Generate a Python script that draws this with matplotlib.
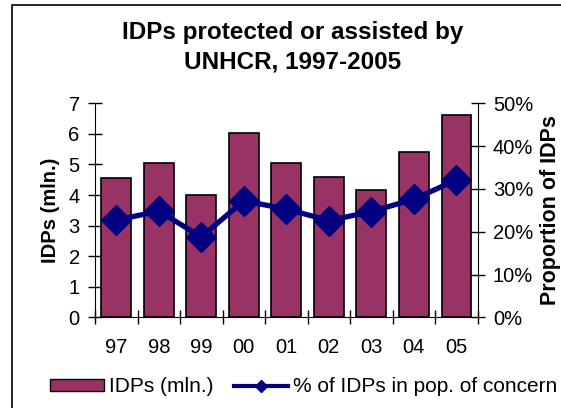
import matplotlib.pyplot as plt
from matplotlib.patches import Rectangle
from matplotlib.ticker import FuncFormatter
from matplotlib.lines import Line2D
import numpy as np

plt.rcParams['font.family'] = ['Liberation Sans', 'DejaVu Sans']

years = ["97", "98", "99", "00", "01", "02", "03", "04", "05"]
idps_mln = [4.55, 5.04, 4.0, 6.03, 5.04, 4.6, 4.18, 5.42, 6.63]
pct_concern = [22.7, 24.8, 18.8, 27.2, 25.3, 22.6, 24.7, 27.6, 32.1]

BAR = "#993366"
LINE = "#000080"
FS = 14.5

fig = plt.figure(figsize=(5.61, 4.08), dpi=100)
ax = fig.add_axes([0.1693, 0.2223, 0.6822, 0.5245])
x = np.arange(len(years))
ax.bar(x, idps_mln, width=0.7, color=BAR, edgecolor="black", linewidth=1.2, zorder=2)
ax.set_xlim(-0.5, len(years) - 0.5)
ax.set_ylim(0, 7)
ax.set_yticks(range(8))

ax2 = ax.twinx()
ax2.plot(x, pct_concern, color=LINE, lw=3.8, marker="D", ms=15, zorder=3)
ax2.set_ylim(0, 50)
ax2.set_yticks(range(0, 51, 10))
ax2.yaxis.set_major_formatter(FuncFormatter(lambda v, p: f"{v:.0f}%"))

for a in (ax, ax2):
    a.spines["top"].set_visible(False)
    a.set_facecolor("none")
ax.spines["right"].set_visible(False)
ax2.spines["left"].set_visible(False)
ax2.spines["bottom"].set_visible(False)

ax.tick_params(axis="y", direction="inout", length=10, width=1, pad=6, labelsize=FS)
ax2.tick_params(axis="y", direction="inout", length=10, width=1, pad=6, labelsize=FS)

# boundary ticks on the category axis, labels at centres
ax.set_xticks(np.arange(-0.5, len(years), 1.0))
ax.set_xticklabels([])
ax.tick_params(axis="x", which="major", direction="inout", length=10, width=1)
ax.set_xticks(x, minor=True)
ax.set_xticklabels(years, minor=True)
ax.tick_params(axis="x", which="minor", length=0, pad=15, labelsize=FS)

ax.set_ylabel("IDPs (mln.)", fontsize=FS, fontweight="bold", labelpad=6)
ax2.set_ylabel("Proportion of IDPs", fontsize=15.5, fontweight="bold", labelpad=5)

fig.text(0.521, 1 - 33 / 408, "IDPs protected or assisted by",
         ha="center", va="center", fontsize=17.5, fontweight="bold")
fig.text(0.521, 1 - 62 / 408, "UNHCR, 1997-2005",
         ha="center", va="center", fontsize=17.5, fontweight="bold")

handles = [Rectangle((0, 0), 1, 1, facecolor=BAR, edgecolor="black", linewidth=1),
           Line2D([], [], color=LINE, lw=3, marker="D", ms=6)]
fig.legend(handles, ["IDPs (mln.)", "% of IDPs in pop. of concern"],
           loc="center", bbox_to_anchor=(0.541, 0.0515), ncol=2, frameon=False,
           fontsize=15, handlelength=2.6, handleheight=0.5, handletextpad=0.25,
           columnspacing=0.95)

fig.patches.append(Rectangle((12 / 561, -0.1), 1.1, 1 - 5 / 408 + 0.1,
                             transform=fig.transFigure, fill=False,
                             edgecolor="black", linewidth=1.2))

fig.savefig("out.png", dpi=100)
